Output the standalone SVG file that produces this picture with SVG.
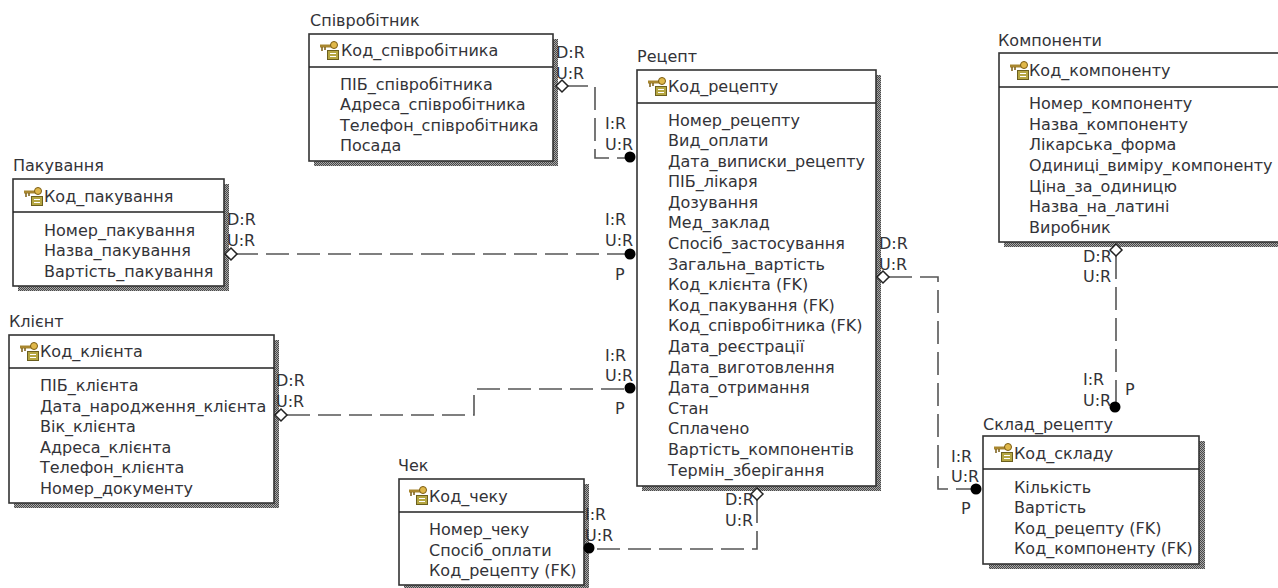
<svg xmlns="http://www.w3.org/2000/svg" width="1278" height="588" viewBox="0 0 1278 588">
<style>
text{font-family:"DejaVu Sans",Verdana,sans-serif;font-size:16px;fill:#333338}
.b{fill:#fff;stroke:#333;stroke-width:1.6}
.s{fill:url(#st)}
.d{stroke:#222;stroke-width:1.4}
.c{fill:none;stroke:#555;stroke-width:1.6;stroke-dasharray:23 8}
.o{fill:#fff;stroke:#222;stroke-width:1.5}
.f{fill:#000}
</style>
<defs>
<pattern id="st" width="2" height="2" patternUnits="userSpaceOnUse"><rect width="2" height="2" fill="#a8a8a8"/><rect width="1" height="1" fill="#484848"/><rect x="1" y="1" width="1" height="1" fill="#484848"/></pattern>
<g id="key">
<path d="M0 5h13" stroke="#a8862e" stroke-width="3"/>
<path d="M2 6v4M5 6v3" stroke="#7a5c14" stroke-width="1.500"/>
<rect x="7.500" y="9.500" width="11" height="9" fill="#b5a642" stroke="#6b5f1e"/>
<path d="M10 12.500h6M10 15.500h6" stroke="#fff" stroke-width="1"/>
<circle cx="14" cy="4" r="3.500" fill="#e0b84a" stroke="#7a5c14"/>
</g>
</defs>
<g id="n-spivrobitnyk">
<text x="310" y="26">Співробітник</text>
<rect class="s" x="314" y="39" width="244" height="127"/><rect class="b" x="309" y="34" width="244" height="127"/>
<path class="d" d="M309 67H553"/><use href="#key" x="320" y="41"/>
<text x="341" y="56">Код_співробітника</text>
<text x="340" y="90">ПІБ_співробітника</text><text x="340" y="110">Адреса_співробітника</text><text x="340" y="131">Телефон_співробітника</text><text x="340" y="151">Посада</text>
</g>
<g id="n-retsept">
<text x="637" y="62">Рецепт</text>
<rect class="s" x="642" y="75" width="239" height="416"/><rect class="b" x="637" y="70" width="239" height="416"/>
<path class="d" d="M637 103H876"/><use href="#key" x="648" y="77"/>
<text x="668" y="92">Код_рецепту</text>
<text x="668" y="126">Номер_рецепту</text><text x="668" y="146">Вид_оплати</text><text x="668" y="167">Дата_виписки_рецепту</text><text x="668" y="187">ПІБ_лікаря</text><text x="668" y="208">Дозування</text><text x="668" y="228">Мед_заклад</text><text x="668" y="249">Спосіб_застосування</text><text x="668" y="270">Загальна_вартість</text><text x="668" y="290">Код_клієнта (FK)</text><text x="668" y="311">Код_пакування (FK)</text><text x="668" y="331">Код_співробітника (FK)</text><text x="668" y="352">Дата_реєстрації</text><text x="668" y="373">Дата_виготовлення</text><text x="668" y="393">Дата_отримання</text><text x="668" y="414">Стан</text><text x="668" y="434">Сплачено</text><text x="668" y="455">Вартість_компонентів</text><text x="668" y="476">Термін_зберігання</text>
</g>
<g id="n-pakuvannya">
<text x="13" y="171">Пакування</text>
<rect class="s" x="18" y="184" width="211" height="107"/><rect class="b" x="13" y="179" width="211" height="107"/>
<path class="d" d="M13 212H224"/><use href="#key" x="24" y="187"/>
<text x="44" y="202">Код_пакування</text>
<text x="44" y="236">Номер_пакування</text><text x="44" y="256">Назва_пакування</text><text x="44" y="277">Вартість_пакування</text>
</g>
<g id="n-klient">
<text x="9" y="327">Клієнт</text>
<rect class="s" x="14" y="340" width="265" height="168"/><rect class="b" x="9" y="335" width="265" height="168"/>
<path class="d" d="M9 368H274"/><use href="#key" x="20" y="342"/>
<text x="40" y="357">Код_клієнта</text>
<text x="40" y="391">ПІБ_клієнта</text><text x="40" y="412">Дата_народження_клієнта</text><text x="40" y="432">Вік_клієнта</text><text x="40" y="453">Адреса_клієнта</text><text x="40" y="473">Телефон_клієнта</text><text x="40" y="494">Номер_документу</text>
</g>
<g id="n-chek">
<text x="398" y="471">Чек</text>
<rect class="s" x="404" y="484" width="185" height="106"/><rect class="b" x="399" y="479" width="185" height="106"/>
<path class="d" d="M399 512H584"/><use href="#key" x="409" y="486"/>
<text x="429" y="502">Код_чеку</text>
<text x="429" y="535">Номер_чеку</text><text x="429" y="556">Спосіб_оплати</text><text x="429" y="576">Код_рецепту (FK)</text>
</g>
<g id="n-komponenty">
<text x="998" y="46">Компоненти</text>
<rect class="s" x="1004" y="58" width="280" height="189"/><rect class="b" x="999" y="53" width="285" height="189"/>
<path class="d" d="M999 87H1278"/><use href="#key" x="1010" y="61"/>
<text x="1029" y="76">Код_компоненту</text>
<text x="1029" y="109">Номер_компоненту</text><text x="1029" y="130">Назва_компоненту</text><text x="1029" y="150">Лікарська_форма</text><text x="1029" y="171">Одиниці_виміру_компоненту</text><text x="1029" y="192">Ціна_за_одиницю</text><text x="1029" y="212">Назва_на_латині</text><text x="1029" y="233">Виробник</text>
</g>
<g id="n-sklad">
<text x="983" y="430">Склад_рецепту</text>
<rect class="s" x="989" y="441" width="216" height="128"/><rect class="b" x="983" y="436" width="216" height="128"/>
<path class="d" d="M983 469H1199"/><use href="#key" x="994" y="443"/>
<text x="1014" y="459">Код_складу</text>
<text x="1014" y="493">Кількість</text><text x="1014" y="513">Вартість</text><text x="1014" y="534">Код_рецепту (FK)</text><text x="1014" y="554">Код_компоненту (FK)</text>
</g>
<g id="connectors">
<path class="c" d="M565 86H595V158H625"/>
<path class="c" d="M235 254H625"/>
<path class="c" d="M287 415H474V395M477 389H625"/>
<path class="c" d="M889 277H938V489H971"/>
<path class="c" d="M1116 256V402"/>
<path class="c" d="M757 500V549H595"/>
<path class="o" d="M556 86l6-6 6 6-6 6z"/>
<circle class="f" cx="630" cy="157" r="5.500"/>
<path class="o" d="M225 254l6-6 6 6-6 6z"/>
<circle class="f" cx="630" cy="254" r="5.500"/>
<path class="o" d="M275 415l6-6 6 6-6 6z"/>
<circle class="f" cx="630" cy="388" r="5.500"/>
<path class="o" d="M877 277l6-6 6 6-6 6z"/>
<circle class="f" cx="976" cy="489" r="5.500"/>
<path class="o" d="M1110 250l6-6 6 6-6 6z"/>
<circle class="f" cx="1115" cy="407" r="5.500"/>
<path class="o" d="M751 494l6-6 6 6-6 6z"/>
<circle class="f" cx="589" cy="548" r="5.500"/>
<text x="556" y="58">D:R</text><text x="556" y="79">U:R</text>
<text x="605" y="129">I:R</text><text x="605" y="150">U:R</text>
<text x="227" y="225">D:R</text><text x="227" y="246">U:R</text>
<text x="605" y="225">I:R</text><text x="605" y="246">U:R</text><text x="615" y="280">P</text>
<text x="276" y="386">D:R</text><text x="276" y="407">U:R</text>
<text x="605" y="361">I:R</text><text x="605" y="381">U:R</text><text x="615" y="414">P</text>
<text x="879" y="249">D:R</text><text x="879" y="270">U:R</text>
<text x="951" y="462">I:R</text><text x="951" y="482">U:R</text><text x="961" y="514">P</text>
<text x="1083" y="262">D:R</text><text x="1083" y="282">U:R</text>
<text x="1083" y="385">I:R</text><text x="1083" y="406">U:R</text><text x="1125" y="395">P</text>
<text x="725" y="505">D:R</text><text x="725" y="526">U:R</text>
<text x="585" y="520">I:R</text><text x="585" y="541">U:R</text>
</g>
</svg>
